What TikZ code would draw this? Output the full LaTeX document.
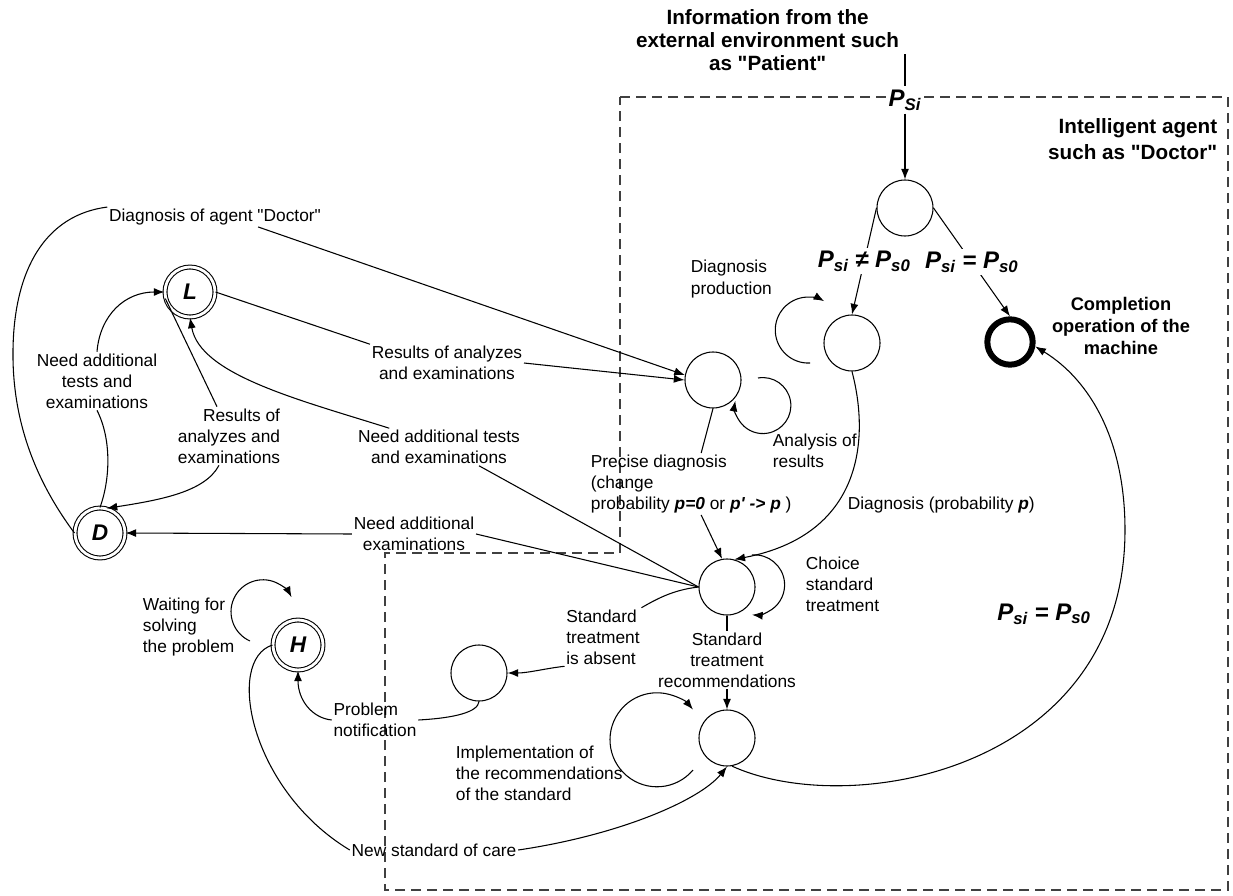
\documentclass[tikz,border=0pt]{standalone}
\usepackage{fontspec}
\setmainfont{Liberation Sans}[Ligatures=TeXOff]
\usetikzlibrary{arrows.meta,calc}
\tikzstyle{st}=[circle,draw=black,line width=0.8pt,minimum size=42pt,inner sep=0pt]
\tikzstyle{fs}=[circle,draw=black,double,double distance=2.1pt,line width=0.8pt,
  minimum size=37.5pt,inner sep=0pt,font=\fontsize{17}{20}\selectfont\bfseries\itshape]
\tikzstyle{hs}=[circle,draw=black,line width=4.5pt,minimum size=34pt,inner sep=0pt]
\tikzstyle{tx}=[inner sep=1pt,font=\fontsize{13}{15.8}\selectfont]
\tikzstyle{btx}=[inner sep=1pt,font=\fontsize{13.7}{16.2}\selectfont\bfseries]
\tikzstyle{ttl}=[inner sep=1pt,font=\fontsize{15.5}{17.5}\selectfont\bfseries]
\tikzstyle{pl}=[fill=white,inner sep=2pt,font=\fontsize{18}{20}\selectfont\bfseries\itshape]
\tikzstyle{arr}=[-{Latex[length=8pt,width=6pt]}]
\tikzstyle{box}=[draw=black!75,line width=1.1pt,dash pattern=on 7.5pt off 4.5pt]
\tikzstyle{none}=[]
\newcommand{\Pss}[1]{P\textsubscript{#1}}

\begin{document}
\begin{tikzpicture}[x=0.75pt,y=0.75pt,line width=0.8pt]
            \useasboundingbox (0, 0) rectangle (1233, -896);
            \draw [style=box] (620, -97) -- (1228, -97) -- (1228, -890) -- (385, -890)
                -- (385, -553) -- (620, -553) -- cycle;
            \node [style=st] (0) at (905, -208) {};
            \node [style=st] (1) at (852, -343) {};
            \node [style=hs] (2) at (1010, -342) {};
            \node [style=st] (3) at (713, -380) {};
            \node [style=st] (4) at (727, -587) {};
            \node [style=st] (5) at (479, -673) {};
            \node [style=st] (6) at (727, -738) {};
            \node [style=fs] (7) at (190, -292) {L};
            \node [style=fs] (8) at (100, -533) {D};
            \node [style=fs] (9) at (298, -645) {H};
            \node [style=ttl, align=center, anchor=east] (10) at (901, -40) {Information from the\\external environment such\\as "Patient"};
            \node [style=none] (11) at (905, -54) {};
            \node [style=pl] (12) at (905, -100) {\Pss{Si}};
            \node [style=ttl, align=right, anchor=east, font=\fontsize{15.5}{19.5}\selectfont\bfseries] (13) at (1219, -139) {Intelligent agent\\such as "Doctor"};
            \node [style=btx, align=center] (14) at (1121, -326) {Completion\\operation of the\\machine};
            \node [style=tx, align=left, anchor=west] (15) at (689, -279) {Diagnosis\\production};
            \node [style=tx, align=left, anchor=west] (16) at (771, -451) {Analysis of\\results};
            \node [style=tx, anchor=west] (17) at (846, -505) {Diagnosis (probability \textbf{\textit{p}})};
            \node [style=tx, align=left, anchor=west] (18) at (589, -484) {Precise diagnosis\\(change\\probability \textbf{\textit{p=0}} or \textbf{\textit{p' -> p}} )};
            \node [style=tx, align=left, anchor=west] (19) at (804, -584) {Choice\\standard\\treatment};
            \node [style=tx, align=center] (20) at (727, -660) {Standard\\treatment\\recommendations};
            \node [style=tx, align=left, anchor=west] (21) at (454, -773) {Implementation of\\the recommendations\\of the standard};
            \node [style=pl, fill=none] (22) at (1044, -614) {\Pss{si} = \Pss{s0}};
            \node [style=tx, align=center] (23) at (414, -534) {Need additional\\examinations};
            \node [style=tx, align=center] (24) at (439, -447) {Need additional tests\\and examinations};
            \node [style=tx, align=center] (25) at (447, -363) {Results of analyzes\\and examinations};
            \node [style=tx] (26) at (215, -217) {Diagnosis of agent "Doctor"};
            \node [style=tx, align=center] (27) at (97, -381) {Need additional\\tests and\\examinations};
            \node [style=tx, align=right] (28) at (229, -436) {Results of\\analyzes and\\examinations};
            \node [style=tx, align=left] (29) at (603, -637) {Standard\\treatment\\is absent};
            \node [style=tx, align=left] (30) at (375, -720) {Problem\\notification};
            \node [style=tx, align=left, anchor=west] (31) at (141, -627) {Waiting for\\solving\\the problem};
            \node [style=tx] (32) at (434, -850) {New standard of care};
            \draw (11.center) to (12);
            \draw [style=arr] (12) to (0);
            \draw [style=arr] (0.west) to node [style=pl] {\Pss{si} ≠ \Pss{s0}} (1.north);
            \draw [style=arr] (0.east) to node [style=pl] {\Pss{si} = \Pss{s0}} (2.north);
            \draw [style=arr] ([shift={(-42,-20)}]1.center) arc [start angle=-87, end angle=-299, radius=33];
            \draw [style=arr] ([shift={(45,2)}]3.center) arc [start angle=100, end angle=-190, radius=28];
            \draw [style=arr] ([shift={(25,32)}]4.center) arc [start angle=95, end angle=-95, radius=30];
            \draw [style=arr] ([shift={(-34,-32)}]6.center) arc [start angle=-40, end angle=-320, radius=47];
            \draw [style=arr] ([shift={(-48,4)}]9.center) arc [start angle=-114, end angle=-333, radius=32];
            \draw [style=arr] (1.south) .. controls (870, -440) and (862, -535) .. (4.75);
            \draw (3.south) to ($(18.north)+(10,0)$);
            \draw [style=arr] ($(18.south)+(10,0)$) to (4.100);
            \draw (4) to (20);
            \draw [style=arr] (20) to (6);
            \draw [style=arr] (6.280) .. controls (850, -820) and (1125, -770) .. (1125, -530)
                .. controls (1125, -440) and (1090, -380) .. (2.-10);
            \draw (4.west) to (23.east);
            \draw [style=arr] (23.west) to (8.east);
            \draw (4.west) to ($(24.south)+(40,0)$);
            \draw [style=arr] ($(24.north)!0.6!(24.north west)$) .. controls (300, -400) and (200, -375) .. (7.south);
            \draw (7.east) to (25.north west);
            \draw [style=arr] (25.east) to (3.west);
            \draw (8.west) .. controls (35, -480) and (12, -420) .. (13, -350)
                .. controls (14, -270) and (45, -215) .. (26.north west);
            \draw [style=arr] ($(26.south)!0.4!(26.south east)$) to (3.170);
            \draw (8.north) .. controls (110, -480) and (112, -440) .. (27.south);
            \draw [style=arr] (27.north) .. controls (100, -315) and (125, -292) .. (7.west);
            \draw (7.195) to ($(28.north)+(-12,0)$);
            \draw [style=arr] ($(28.south)+(-10,0)$) .. controls (205, -492) and (160, -500) .. (8.75);
            \draw (4.west) .. controls (672, -590) and (655, -600) .. (29.north east);
            \draw [style=arr] (29.south west) .. controls (548, -668) and (528, -673) .. (5.east);
            \draw (5.south) .. controls (478, -712) and (455, -718) .. (30.east);
            \draw [style=arr] (30.west) .. controls (312, -718) and (298, -700) .. (9.south);
            \draw (9.west) .. controls (225, -660) and (250, -790) .. (32.west);
            \draw [style=arr] (32.east) .. controls (620, -835) and (700, -800) .. (6.south);
    \end{tikzpicture}
\end{document}
